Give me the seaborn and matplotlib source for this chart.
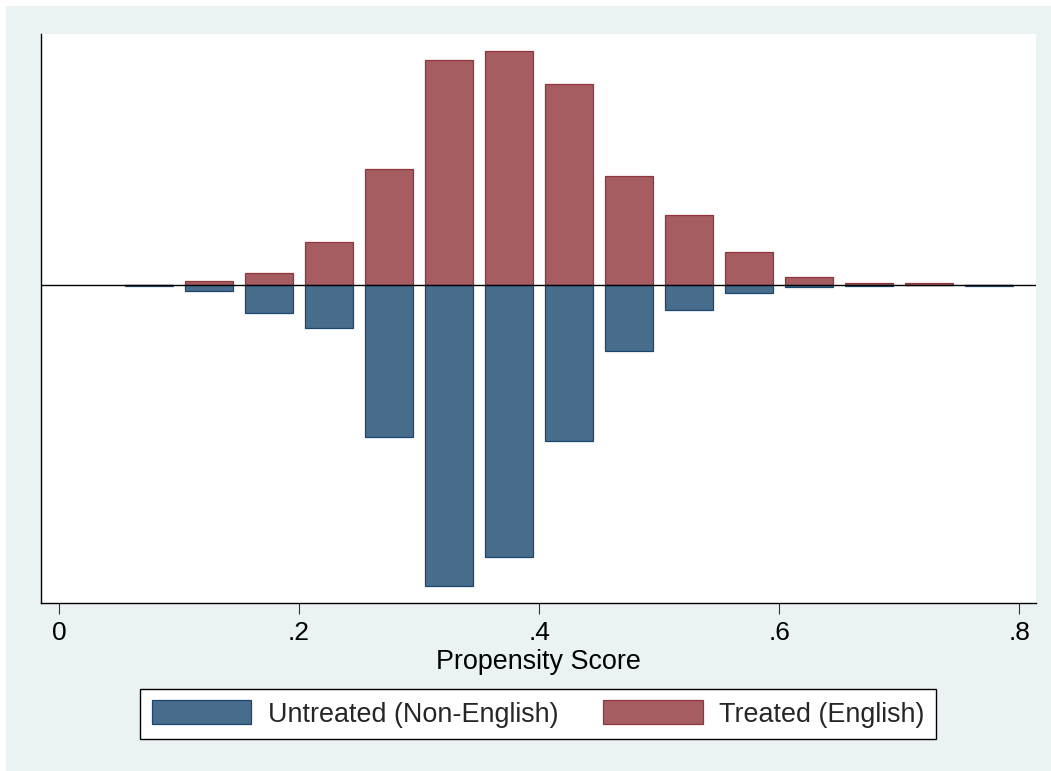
import numpy as np
import pandas as pd
import matplotlib
matplotlib.use("Agg")
import matplotlib.pyplot as plt
from matplotlib.patches import Patch, Rectangle
import seaborn as sns

# Histogram bin centres (bin width 0.05) and densities for each group
bin_centers = [0.075, 0.125, 0.175, 0.225, 0.275, 0.325, 0.375, 0.425,
               0.475, 0.525, 0.575, 0.625, 0.675, 0.725, 0.775]
treated_density = [0.00, 0.08, 0.23, 0.81, 2.19, 4.25, 4.42, 3.79,
                   2.06, 1.32, 0.62, 0.16, 0.04, 0.03, 0.00]
untreated_density = [0.01, 0.12, 0.53, 0.82, 2.87, 5.68, 5.13, 2.94,
                     1.25, 0.47, 0.16, 0.04, 0.02, 0.00, 0.01]

xtick_values = [0.0, 0.2, 0.4, 0.6, 0.8]
xtick_labels = ["0", ".2", ".4", ".6", ".8"]
legend_labels = ["Untreated (Non-English)", "Treated (English)"]
x_title = "Propensity Score"

blue_fill, blue_edge = "#486C8C", "#1A476F"
red_fill, red_edge = "#A65D62", "#90353B"

sns.set_theme(style="white")
plt.rcParams["font.family"] = ["Liberation Sans", "DejaVu Sans"]

W, H = 1051, 771
fig = plt.figure(figsize=(W / 100, H / 100), dpi=100, facecolor="white")
fig.patches.append(Rectangle((6 / W, 0), 1 - 6 / W, 1 - 6 / H,
                             transform=fig.transFigure, facecolor="#EAF2F3",
                             edgecolor="none", zorder=-10))

ax = fig.add_axes([41 / W, 1 - 603 / H, (1036 - 41) / W, (603 - 34) / H])
ax.set_facecolor("white")

df = pd.DataFrame({
    "score": bin_centers,
    "treated": treated_density,
    "untreated": -np.asarray(untreated_density),
})

bar_kw = dict(native_scale=True, width=0.8, saturation=1, errorbar=None,
              linewidth=0.9, ax=ax)
sns.barplot(data=df, x="score", y="treated", color=red_fill,
            edgecolor=red_edge, **bar_kw)
sns.barplot(data=df, x="score", y="untreated", color=blue_fill,
            edgecolor=blue_edge, **bar_kw)

ax.axhline(0, color="black", lw=1.0, zorder=5)

ax.set_xlim(-0.015, 0.814)
ax.set_ylim(-6.0, 4.736)
ax.set_xticks(xtick_values)
ax.set_xticklabels(xtick_labels)
ax.set_yticks([])
ax.set_ylabel("")
ax.set_xlabel(x_title, fontsize=19.4, labelpad=3, color="black")

for side in ("top", "right"):
    ax.spines[side].set_visible(False)
for side in ("left", "bottom"):
    ax.spines[side].set_color("black")
    ax.spines[side].set_linewidth(1.0)

ax.tick_params(axis="x", bottom=True, length=8, width=0.8, color="#333333",
               labelsize=19, pad=5, labelcolor="black")

handles = [Patch(facecolor=blue_fill, edgecolor=blue_edge, linewidth=0.9),
           Patch(facecolor=red_fill, edgecolor=red_edge, linewidth=0.9)]
leg = fig.legend(handles, legend_labels, loc="center",
                 bbox_to_anchor=(538 / W, 1 - 714 / H), ncol=2,
                 frameon=True, fancybox=False, edgecolor="black",
                 facecolor="white", framealpha=1, fontsize=19.4,
                 handlelength=3.7, handleheight=1.0, handletextpad=0.6,
                 columnspacing=1.67, borderpad=0.42, borderaxespad=0)
leg.get_frame().set_linewidth(1.0)

fig.savefig("out.png", dpi=100, facecolor=fig.get_facecolor())
